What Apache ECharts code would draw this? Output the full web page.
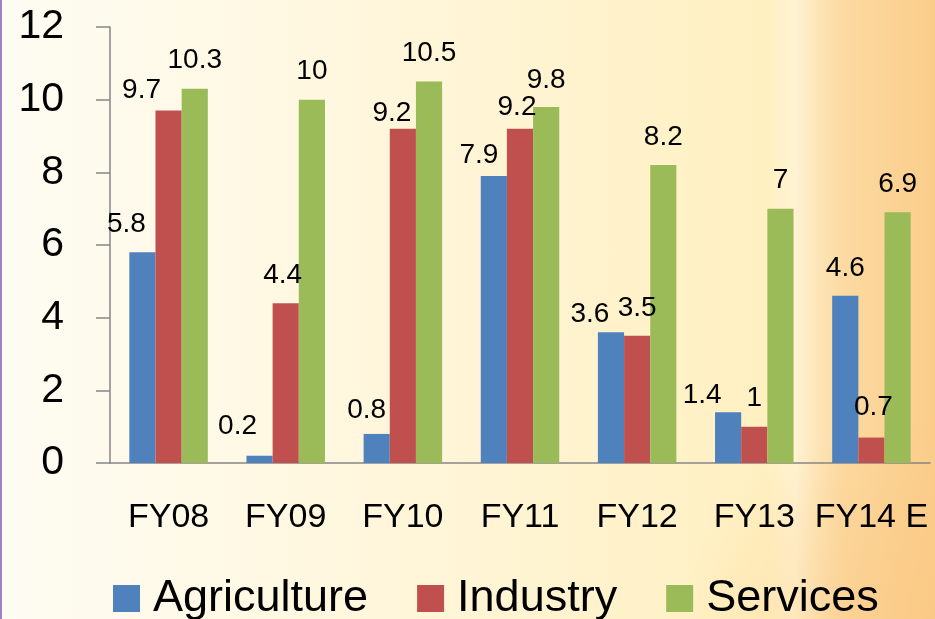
<!DOCTYPE html>
<html>
<head>
<meta charset="utf-8">
<script src="https://cdn.jsdelivr.net/npm/echarts@6/dist/echarts.min.js"></script>
<style>
  html, body { margin: 0; padding: 0; }
  body {
    width: 935px; height: 619px; overflow: hidden;
    background:
      radial-gradient(ellipse 260px 200px at 100% 100%, rgba(250, 198, 128, 0.55), rgba(250, 198, 128, 0) 100%),
      linear-gradient(90deg, #fefcf3 0%, #fff7df 35%, #fff2c9 70%, #fff0c1 82%, #fff3d3 85%, #fde5b8 87.5%, #fcdaa2 90%, #fbd293 96%, #fbcd8b 100%);
    border-left: 2px solid #9a84c6;
    box-sizing: border-box;
  }
  .chart { width: 933px; height: 619px; }
</style>
</head>
<body>
<div class="chart"></div>
<script>
var years = ['FY08', 'FY09', 'FY10', 'FY11', 'FY12', 'FY13', 'FY14 E'];
var agriculture = [5.8, 0.2, 0.8, 7.9, 3.6, 1.4, 4.6];
var industry = [9.7, 4.4, 9.2, 9.2, 3.5, 1, 0.7];
var services = [10.3, 10, 10.5, 9.8, 8.2, 7, 6.9];
var yTicks = [0, 2, 4, 6, 8, 10, 12];

// 标签手动挪动的位置 (系列序号-类目序号)
var nudge = {
  '0-0': [-16, 0], '1-0': [-27, 8],
  '0-1': [-22, -1], '1-1': [-3, 0],
  '0-2': [-10, 4], '1-2': [-11, 13],
  '0-3': [-15, 7], '1-3': [-3, 7], '2-3': [0, 1],
  '0-4': [-21, 10],
  '0-5': [-26, 11],
  '1-6': [2, -2]
};

function withNudge(arr, s) {
  return arr.map(function (v, i) {
    var n = nudge[s + '-' + i];
    return n ? { value: v, label: { offset: n } } : v;
  });
}

var font = "'Liberation Sans', Arial, sans-serif";
var chart = echarts.init(document.querySelector('.chart'));

var label = {
  show: true,
  position: 'top',
  distance: 14,
  color: '#000',
  fontSize: 28,
  fontFamily: font
};

var option = {
  animation: false,
  color: ['#4f81bd', '#c0504d', '#9bbb59'],
  grid: { left: 108, right: 5, top: 27, bottom: 156 },
  legend: {
    left: 106,
    top: 571,
    itemWidth: 27,
    itemHeight: 27,
    itemGap: 49,
    icon: 'rect',
    textStyle: { fontSize: 45, fontFamily: font, color: '#000', padding: [0, 0, 0, 8] },
    data: ['Agriculture', 'Industry', 'Services']
  },
  xAxis: {
    type: 'category',
    data: years,
    axisLine: { lineStyle: { color: '#868686', width: 1.5 } },
    axisTick: { length: 13, lineStyle: { color: '#868686', width: 1.5 } },
    axisLabel: { interval: 0, color: '#000', fontSize: 34, fontFamily: font, margin: 38 }
  },
  yAxis: {
    type: 'value',
    min: 0,
    max: 12,
    interval: 2,
    splitLine: { show: false },
    axisLine: { show: true, lineStyle: { color: '#868686', width: 1.5 } },
    axisTick: { show: true, length: 14, lineStyle: { color: '#868686', width: 1.5 } },
    axisLabel: {
      color: '#000', fontSize: 41, fontFamily: font, margin: 46,
      formatter: function (v) { return yTicks.indexOf(v) > -1 ? String(v) : ''; }
    }
  },
  series: [
    { name: 'Agriculture', type: 'bar', barGap: '0%', barCategoryGap: '33%', label: label, data: withNudge(agriculture, 0) },
    { name: 'Industry', type: 'bar', barGap: '0%', barCategoryGap: '33%', label: label, data: withNudge(industry, 1) },
    { name: 'Services', type: 'bar', barGap: '0%', barCategoryGap: '33%', label: label, data: withNudge(services, 2) }
  ]
};
chart.setOption(option);
</script>
</body>
</html>
